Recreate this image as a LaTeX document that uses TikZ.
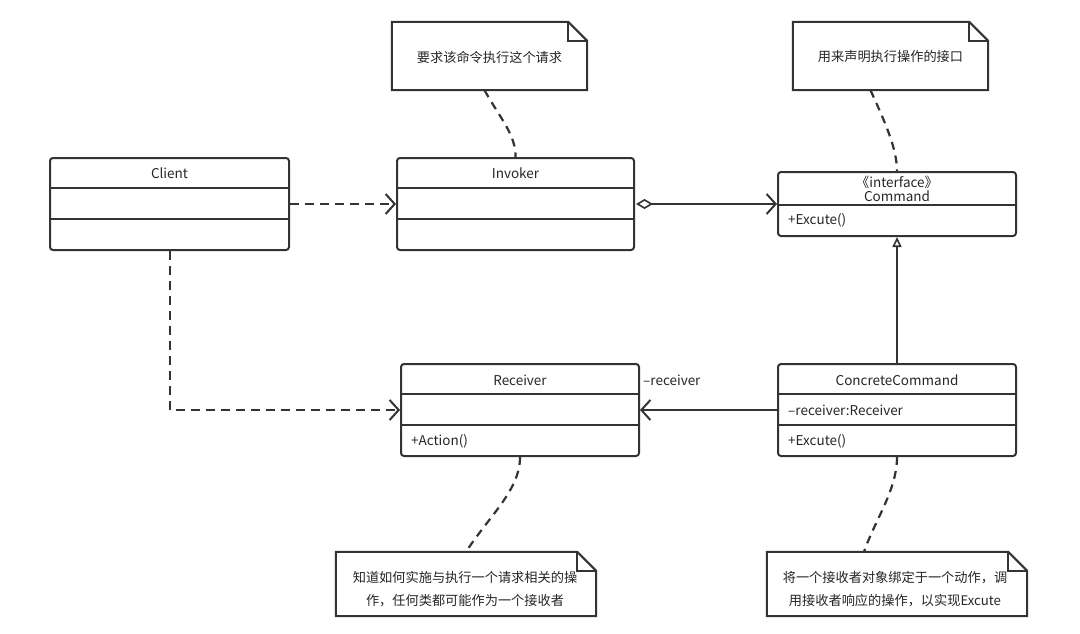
\documentclass[tikz,border=0pt]{standalone}
\usepackage{fontspec}
\setmainfont{Noto Sans CJK SC}
\usetikzlibrary{arrows.meta,calc}
\definecolor{ln}{HTML}{333333}
\definecolor{tx}{HTML}{262626}
\tikzset{
  x=1pt,y=-1pt,
  cls/.style={draw=ln,line width=2pt,rounded corners=3pt,inner sep=0pt},
  txt/.style={text=tx,font=\fontsize{13.5}{16}\selectfont,inner sep=0pt},
  attr/.style={txt,anchor=west},
  notebox/.style={inner sep=0pt},
  notetext/.style={inner sep=0pt,text=tx,font=\fontsize{13.2}{23}\selectfont,align=center},
  dline/.style={draw=ln,line width=2pt,dash pattern=on 9pt off 6pt},
  cline/.style={draw=ln,line width=2.2pt,dash pattern=on 8pt off 6pt},
  sline/.style={draw=ln,line width=2pt},
  barb/.style={-{Straight Barb[length=9pt,width=20pt,line width=2pt]}},
}
\newcommand{\notedraw}[1]{%
  \draw[sline,line join=miter] (#1.north west) -- ($(#1.north east)+(-19,0)$) -- ($(#1.north east)+(0,19)$) -- (#1.south east) -- (#1.south west) -- cycle;
  \draw[sline] ($(#1.north east)+(-19,0)$) -- ($(#1.north east)+(-19,19)$) -- ($(#1.north east)+(0,19)$);}
\begin{document}
\begin{tikzpicture}
\useasboundingbox[fill=white] (0,0) rectangle (1080,634);
% class boxes
\node[cls,minimum width=239pt,minimum height=92pt] (client) at (169.5,204) {};
\node[cls,minimum width=237pt,minimum height=92pt] (invoker) at (515.5,204) {};
\node[cls,minimum width=238pt,minimum height=64pt] (command) at (897,204) {};
\node[cls,minimum width=238pt,minimum height=92pt] (receiver) at (520,410) {};
\node[cls,minimum width=238pt,minimum height=92pt] (cc) at (897,410) {};
% dividers
\draw[sline] (50,188) -- (289,188) (50,219) -- (289,219);
\draw[sline] (397,188) -- (634,188) (397,219) -- (634,219);
\draw[sline] (778,205) -- (1016,205);
\draw[sline] (401,394) -- (639,394) (401,425) -- (639,425);
\draw[sline] (778,394) -- (1016,394) (778,425) -- (1016,425);
% texts
\node[txt] (tclient) at (169.5,173) {Client};
\node[txt] (tinvoker) at (515.5,173) {Invoker};
\node[txt,align=center,font=\fontsize{13.5}{13.5}\selectfont] (tcommand) at (897,189) {《interface》\\Command};
\node[attr] (acommand) at (788,220) {+Excute()};
\node[txt] (treceiver) at (520,380) {Receiver};
\node[attr] (areceiver) at (411,441) {+Action()};
\node[txt] (tcc) at (897,380) {ConcreteCommand};
\node[attr] (acc1) at (788,410) {–receiver:Receiver};
\node[attr] (acc2) at (788,441) {+Excute()};
\node[attr] (lrecv) at (643,380) {–receiver};
% notes
\node[notebox,minimum width=195pt,minimum height=68pt] (n1) at (489.5,56) {};
\node[notebox,minimum width=195pt,minimum height=68pt] (n2) at (890.5,56) {};
\node[notebox,minimum width=260pt,minimum height=64pt] (n3) at (466,584) {};
\node[notebox,minimum width=260pt,minimum height=64pt] (n4) at (897,584) {};
\notedraw{n1}
\notedraw{n2}
\notedraw{n3}
\notedraw{n4}
\node[notetext] (n1t) at (489.5,57) {要求该命令执行这个请求};
\node[notetext] (n2t) at (890.5,57) {用来声明执行操作的接口};
\node[notetext] (n3t) at (465,589) {知道如何实施与执行一个请求相关的操\\作，任何类都可能作为一个接收者};
\node[notetext] (n4t) at (895,589) {将一个接收者对象绑定于一个动作，调\\用接收者响应的操作，以实现Excute};
% connectors
\draw[dline,barb] (client.east) -- (invoker.west);
\draw[sline,{Diamond[open,length=17pt,width=10pt,line width=1.6pt]}-{Straight Barb[length=9pt,width=20pt,line width=2pt]}] ($(invoker.east)+(1,0)$) -- (command.west);
\draw[dline,barb] (client.south) |- (receiver.west);
\draw[sline,-{Triangle[open,length=10pt,width=9pt,line width=1.6pt]}] (cc.north) -- (command.south);
\draw[sline,barb] (cc.west) -- (receiver.east);
% note links
\coordinate (n1b) at ($(n1.south)+(-5,0)$);
\coordinate (n2b) at ($(n2.south)+(-20,0)$);
\coordinate (n3top) at ($(n3.north)+(0,0)$);
\coordinate (n4top) at ($(n4.north)+(-33,0)$);
\draw[cline] (n1b) .. controls (500,118) and (516,135) .. (invoker.north);
\draw[cline] (n2b) .. controls (884,120) and (897,148) .. (command.north);
\draw[cline] (receiver.south) .. controls (520,490) and (490,515) .. (n3top);
\draw[cline] (cc.south) .. controls (897,490) and (875,520) .. (n4top);
\end{tikzpicture}
\end{document}
